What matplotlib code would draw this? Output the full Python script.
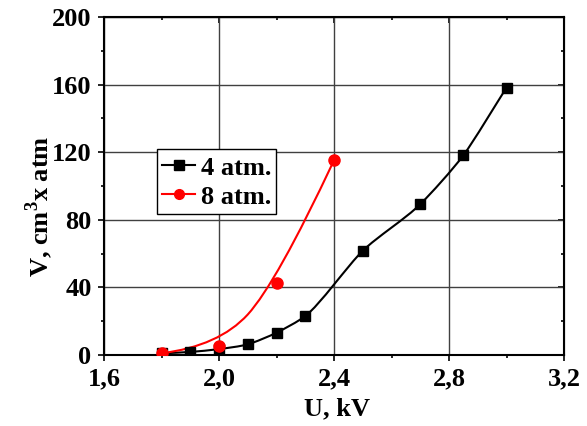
import numpy as np
import matplotlib
matplotlib.use('Agg')
import matplotlib.pyplot as plt
from matplotlib.path import Path
from matplotlib.patches import PathPatch
from matplotlib.lines import Line2D

# Datos
u_4atm = [1.8, 1.9, 2.0, 2.1, 2.2, 2.3, 2.5, 2.7, 2.85, 3.0]
v_4atm = [1.0, 1.8, 3.5, 6.3, 13.2, 23.0, 61.7, 89.2, 118.2, 158.2]
u_8atm = [1.8, 2.0, 2.2, 2.4]
v_8atm = [1.0, 5.3, 42.6, 115.2]

x_ticks = [1.6, 2.0, 2.4, 2.8, 3.2]
x_labels = ['1,6', '2,0', '2,4', '2,8', '3,2']
x_minor = [1.8, 2.2, 2.6, 3.0]
y_ticks = [0, 40, 80, 120, 160, 200]
y_minor = [20, 60, 100, 140, 180]

plt.rcParams['font.family'] = ['Liberation Serif', 'DejaVu Serif']
plt.rcParams['font.weight'] = 'bold'
plt.rcParams['mathtext.fontset'] = 'custom'
plt.rcParams['mathtext.rm'] = 'Liberation Serif:bold'

FS = 19


# Curva suave que pasa por los puntos (Hermite cúbica en x, como Bezier)
def spline_path(x, y, k=4.0):
    x = np.asarray(x, float)
    y = np.asarray(y, float)
    m = np.gradient(y, x)
    verts = [(x[0], y[0])]
    codes = [Path.MOVETO]
    for i in range(len(x) - 1):
        h = x[i + 1] - x[i]
        verts += [(x[i] + h / k, y[i] + m[i] * h / k),
                  (x[i + 1] - h / k, y[i + 1] - m[i + 1] * h / k),
                  (x[i + 1], y[i + 1])]
        codes += [Path.CURVE4] * 3
    return Path(verts, codes)


# B-spline cuadrática con los puntos como control
def bspline_path(x, y):
    p = np.column_stack([x, y])
    verts = [p[0]]
    codes = [Path.MOVETO]
    for i in range(1, len(p) - 1):
        end = p[-1] if i == len(p) - 2 else (p[i] + p[i + 1]) / 2
        verts += [p[i], end]
        codes += [Path.CURVE3] * 2
    return Path(verts, codes)


fig = plt.figure(figsize=(5.87, 4.26), dpi=100)
ax = fig.add_axes([104 / 587, 71 / 426, 460 / 587, 338 / 426])

ax.add_patch(PathPatch(spline_path(u_4atm, v_4atm), fill=False,
                       edgecolor='black', linewidth=1.5, zorder=3))
ax.add_patch(PathPatch(bspline_path(u_8atm, v_8atm), fill=False,
                       edgecolor='red', linewidth=1.5, zorder=3))
ax.plot(u_4atm, v_4atm, 's', color='black', markersize=7, linestyle='none', zorder=4)
ax.plot(u_8atm, v_8atm, 'o', color='red', markersize=8, linestyle='none', zorder=5)

ax.set_xlim(1.6, 3.2)
ax.set_ylim(0, 200)
ax.set_xticks(x_ticks)
ax.set_xticklabels(x_labels)
ax.set_yticks(y_ticks)
ax.set_xticks(x_minor, minor=True)
ax.set_yticks(y_minor, minor=True)
ax.tick_params(which='both', direction='out', labelsize=FS, width=1.2, pad=5)
ax.tick_params(which='major', length=4)
ax.tick_params(which='minor', length=2.5)
ax.grid(True, which='major', color='#404040', linewidth=1)
for s in ax.spines.values():
    s.set_linewidth(1.5)

# Marcas hacia dentro arriba y a la derecha
top = ax.secondary_xaxis('top')
top.set_xticks(x_ticks)
top.set_xticks(x_minor, minor=True)
top.tick_params(which='both', direction='in', labeltop=False, width=1.2)
top.tick_params(which='major', length=4)
top.tick_params(which='minor', length=2.5)
right = ax.secondary_yaxis('right')
right.set_yticks(y_ticks)
right.set_yticks(y_minor, minor=True)
right.tick_params(which='both', direction='in', labelright=False, width=1.2)
right.tick_params(which='major', length=4)
right.tick_params(which='minor', length=2.5)

ax.set_xlabel('U, kV', fontsize=FS, fontweight='bold')
ax.set_ylabel('V, cm$^3$x atm', fontsize=FS, fontweight='bold')
ax.xaxis.set_label_coords(0.507, -0.124)
ax.yaxis.set_label_coords(-0.107, 0.439)

handles = [
    Line2D([], [], color='black', marker='s', markersize=6.5, linewidth=1.5),
    Line2D([], [], color='red', marker='o', markersize=7, linewidth=1.5),
]
leg = ax.legend(handles, ['4 atm.', '8 atm.'], loc='upper left',
                bbox_to_anchor=(53 / 460, 206 / 338), fontsize=FS, frameon=True,
                fancybox=False, edgecolor='black', framealpha=1,
                handlelength=1.25, handleheight=1.02, handletextpad=0.2,
                borderpad=0.2, labelspacing=0.11, borderaxespad=0)
leg.get_frame().set_linewidth(1.0)

fig.savefig('out.png', dpi=100)
